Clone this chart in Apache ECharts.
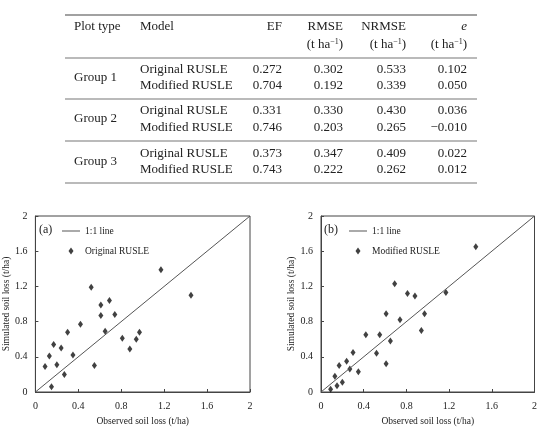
<!DOCTYPE html>
<html>
<head>
<meta charset="utf-8">
<script src="https://cdn.jsdelivr.net/npm/echarts@6/dist/echarts.min.js"></script>
<style>
  html, body { margin: 0; padding: 0; background: #fff; }
  #main { width: 540px; height: 431px; }
</style>
</head>
<body>
<div id="main"></div>
<script>
// table values
const plotTypes = ['Group 1', 'Group 2', 'Group 3']
const models = ['Original RUSLE', 'Modified RUSLE']
const efVals = [[0.272, 0.704], [0.331, 0.746], [0.373, 0.743]]
const rmseVals = [[0.302, 0.192], [0.330, 0.203], [0.347, 0.222]]
const nrmseVals = [[0.533, 0.339], [0.430, 0.265], [0.409, 0.262]]
const eVals = [[0.102, 0.050], [0.036, -0.010], [0.022, 0.012]]

// scatter values (t/ha)
const observed = [0.09, 0.13, 0.15, 0.17, 0.20, 0.24, 0.27, 0.30, 0.35, 0.42, 0.52, 0.55,
  0.61, 0.61, 0.65, 0.69, 0.74, 0.81, 0.88, 0.94, 0.97, 1.17, 1.45]
const simOriginal = [0.29, 0.41, 0.06, 0.54, 0.31, 0.50, 0.20, 0.68, 0.42, 0.77, 1.19, 0.30,
  0.99, 0.87, 0.69, 1.04, 0.88, 0.61, 0.49, 0.60, 0.68, 1.39, 1.10]
const simModified = [0.03, 0.18, 0.07, 0.30, 0.11, 0.35, 0.26, 0.45, 0.23, 0.65, 0.44, 0.65,
  0.89, 0.32, 0.58, 1.23, 0.82, 1.12, 1.09, 0.70, 0.89, 1.13, 1.65]
const oneToOne = [[0, 0], [2, 2]]
const axisRange = { min: 0, max: 2, step: 0.4 }

const SERIF = '"Liberation Serif", "DejaVu Serif", serif'
const ink = '#222'

function fmt (v) {
  return (v < 0 ? '\u2212' : '') + Math.abs(v).toFixed(3)
}

// ---- table as graphic elements ----
const cols = { plot: 74, model: 140, ef: 282, rmse: 343, nrmse: 406, e: 467 }
const rowY = [[70, 86], [111, 128], [154, 170]]
const groupY = [78, 119, 162]
const rules = [15, 58, 99, 141, 183]

function txt (x, y, text, align, extra) {
  return {
    type: 'text',
    style: Object.assign({
      x: x, y: y, text: text, align: align || 'left', verticalAlign: 'middle',
      fontFamily: SERIF, fontSize: 13, fill: ink
    }, extra || {})
  }
}

const unitRich = { s: { fontSize: 8, verticalAlign: 'top', fontFamily: SERIF, fill: ink, padding: [0, 0, 6, 0] } }
const unit = '(t ha{s|\u22121})'

let graphics = []
rules.forEach((y, i) => {
  graphics.push({
    type: 'line',
    shape: { x1: 65, y1: y, x2: 477, y2: y },
    style: { stroke: i === 0 ? '#444' : '#777', lineWidth: 1.2 }
  })
})
graphics.push(txt(cols.plot, 27, 'Plot type'))
graphics.push(txt(cols.model, 27, 'Model'))
graphics.push(txt(cols.ef, 27, 'EF', 'right'))
graphics.push(txt(cols.rmse, 27, 'RMSE', 'right'))
graphics.push(txt(cols.nrmse, 27, 'NRMSE', 'right'))
graphics.push(txt(cols.e, 27, 'e', 'right', { fontStyle: 'italic' }))
;[cols.rmse, cols.nrmse, cols.e].forEach(x => {
  graphics.push(txt(x, 45, unit, 'right', { rich: unitRich }))
})

plotTypes.forEach((g, gi) => {
  graphics.push(txt(cols.plot, groupY[gi], g))
  models.forEach((m, mi) => {
    const y = rowY[gi][mi]
    graphics.push(txt(cols.model, y, m))
    graphics.push(txt(cols.ef, y, fmt(efVals[gi][mi]), 'right'))
    graphics.push(txt(cols.rmse, y, fmt(rmseVals[gi][mi]), 'right'))
    graphics.push(txt(cols.nrmse, y, fmt(nrmseVals[gi][mi]), 'right'))
    graphics.push(txt(cols.e, y, fmt(eVals[gi][mi]), 'right'))
  })
})

// panel labels
graphics.push(txt(39, 230, '(a)', 'left', { fontSize: 12 }))
graphics.push(txt(324, 230, '(b)', 'left', { fontSize: 12 }))

// ---- scatter panels ----
const grids = [
  { left: 35, top: 216, width: 215, height: 176, show: true, borderColor: '#444', borderWidth: 1 },
  { left: 321, top: 216, width: 215, height: 176, show: true, borderColor: '#444', borderWidth: 1 }
]

function valueAxis (idx, dim) {
  const isX = dim === 'x'
  return {
    type: 'value',
    gridIndex: idx,
    min: axisRange.min,
    max: axisRange.max,
    interval: axisRange.step,
    name: isX ? 'Observed soil loss (t/ha)' : 'Simulated soil loss (t/ha)',
    nameLocation: 'middle',
    nameGap: isX ? 24 : 15,
    nameTextStyle: { fontFamily: SERIF, fontSize: 9.5, color: ink },
    axisLine: { show: true, lineStyle: { color: '#444', width: 1 } },
    axisTick: { show: true, inside: true, length: 3, lineStyle: { color: '#444' } },
    axisLabel: { fontFamily: SERIF, fontSize: 10, color: ink, margin: isX ? 9 : 8 },
    splitLine: { show: false }
  }
}

function pairs (xs, ys) {
  return xs.map((x, i) => [x, ys[i]])
}

const markerStyle = { color: '#111' }
const lineIcon = 'path://M0,0 L18,0 L18,1 L0,1 Z'
const diamondIcon = 'path://M2.5,0 L5,3.5 L2.5,7 L0,3.5 Z'

function legendFor (name, left) {
  return {
    data: [
      { name: '1:1 line', icon: lineIcon },
      { name: name, icon: diamondIcon }
    ],
    orient: 'vertical', left: left, top: 221,
    itemWidth: 18, itemHeight: 7, itemGap: 10,
    textStyle: { fontFamily: SERIF, fontSize: 9.5, color: ink },
    selectedMode: false
  }
}

const option = {
  animation: false,
  backgroundColor: '#fff',
  grid: grids,
  xAxis: [valueAxis(0, 'x'), valueAxis(1, 'x')],
  yAxis: [valueAxis(0, 'y'), valueAxis(1, 'y')],
  legend: [legendFor('Original RUSLE', 57), legendFor('Modified RUSLE', 344)],
  series: [
    {
      name: '1:1 line', type: 'line', xAxisIndex: 0, yAxisIndex: 0,
      data: oneToOne, symbol: 'none', lineStyle: { color: '#555', width: 1 }, itemStyle: { color: '#555' }
    },
    {
      name: 'Original RUSLE', type: 'scatter', xAxisIndex: 0, yAxisIndex: 0,
      data: pairs(observed, simOriginal), symbol: 'diamond', symbolSize: [5, 7], itemStyle: markerStyle
    },
    {
      name: '1:1 line', type: 'line', xAxisIndex: 1, yAxisIndex: 1,
      data: oneToOne, symbol: 'none', lineStyle: { color: '#555', width: 1 }, itemStyle: { color: '#555' }
    },
    {
      name: 'Modified RUSLE', type: 'scatter', xAxisIndex: 1, yAxisIndex: 1,
      data: pairs(observed, simModified), symbol: 'diamond', symbolSize: [5, 7], itemStyle: markerStyle
    }
  ],
  graphic: graphics
}

const chart = echarts.init(document.getElementById('main'), null, { renderer: 'canvas' })
chart.setOption(option)
</script>
</body>
</html>
